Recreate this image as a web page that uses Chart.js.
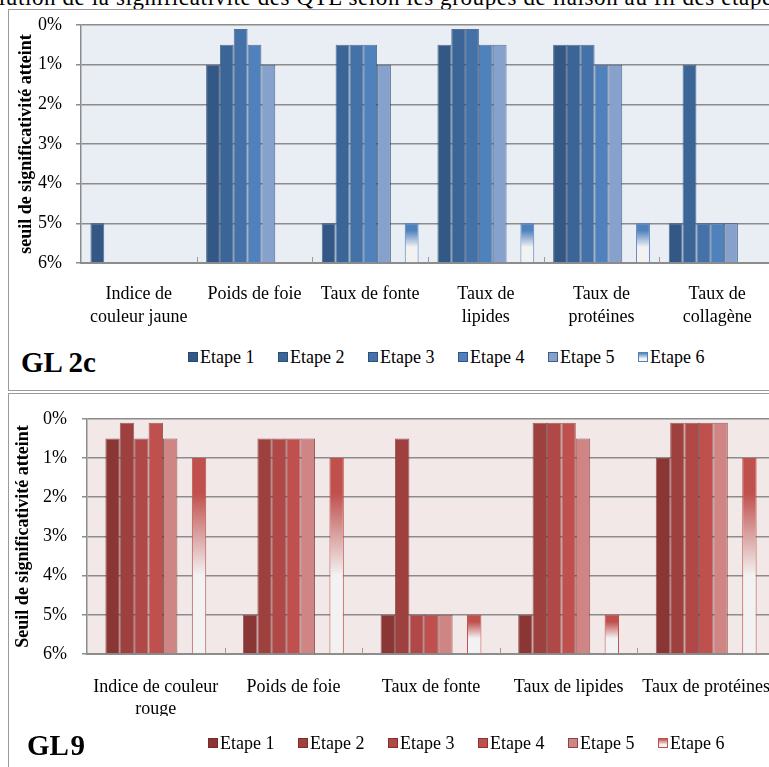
<!DOCTYPE html>
<html lang="fr">
<head>
<meta charset="utf-8">
<title>Significativité des QTL – GL 2c et GL 9</title>
<script src="https://cdn.jsdelivr.net/npm/chart.js@4.4.1/dist/chart.umd.min.js"></script>
<style>
  html, body {
    margin: 0; padding: 0; background: #fff;
    width: 769px; height: 767px; overflow: hidden; position: relative;
    font-family: 'Liberation Serif', 'Times New Roman', serif; color: #000;
  }
  .heading {
    position: absolute; left: -40px; top: -14px;
    font-size: 23px; line-height: 23px; letter-spacing: 0.6px; white-space: nowrap;
  }
  .frame {
    position: absolute; left: 8px; width: 840px;
    border: 1px solid #9a9a9a; box-sizing: border-box;
  }
  #frameA { top: 9px; height: 382px; }
  #frameB { top: 393px; height: 420px; }
  .plot { position: absolute; left: 0; }
  #chartA { top: 0; }
  #chartB { top: 393px; }
  .tag {
    position: absolute; font-weight: bold; font-size: 29px; line-height: 29px; white-space: nowrap;
  }
  .key { position: absolute; height: 20px; white-space: nowrap; font-size: 18px; line-height: 20px; }
  .key i {
    position: absolute; left: 0; top: 5px; width: 10px; height: 10px; box-sizing: border-box;
  }
  .key span { position: absolute; left: 12px; top: 0; }
</style>
</head>
<body>
<div class="heading">Évolution de la significativité des QTL selon les groupes de liaison au fil des étapes</div>
<div class="frame" id="frameA"></div>
<div class="frame" id="frameB"></div>
<canvas class="plot" id="chartA" width="800" height="345"></canvas>
<canvas class="plot" id="chartB" width="800" height="360"></canvas>
<div class="tag" style="left:21px; top:348px;">GL 2c</div>
<div class="tag" style="left:27px; top:731px; word-spacing:-4px;">GL 9</div>
<div id="legendA"></div>
<div id="legendB"></div>

<script>
// Stages shown in both charts
const SERIES_NAMES = ['Etape 1', 'Etape 2', 'Etape 3', 'Etape 4', 'Etape 5', 'Etape 6'];

// Threshold axis (per cent), read from top (0 %) to bottom (6 %)
const THRESHOLD_TICKS = ['0%', '1%', '2%', '3%', '4%', '5%', '6%'];
const THRESHOLD_FLOOR = 6;

// GL 2c — traits and threshold reached at each stage (null = not significant)
const GL2C_TRAITS = [['Indice de', 'couleur jaune'], 'Poids de foie', 'Taux de fonte',
                     ['Taux de', 'lipides'], ['Taux de', 'protéines'], ['Taux de', 'collagène']];
const GL2C_ETAPE1 = [5,    1,    5,   0.5, 0.5, 5];
const GL2C_ETAPE2 = [null, 0.5,  0.5, 0.1, 0.5, 1];
const GL2C_ETAPE3 = [null, 0.1,  0.5, 0.1, 0.5, 5];
const GL2C_ETAPE4 = [null, 0.5,  0.5, 0.5, 1,   5];
const GL2C_ETAPE5 = [null, 1,    1,   0.5, 1,   5];
const GL2C_ETAPE6 = [null, null, 5,   5,   5,   null];

// GL 9 — traits and threshold reached at each stage
const GL9_TRAITS = [['Indice de couleur', 'rouge'], 'Poids de foie', 'Taux de fonte',
                    'Taux de lipides', 'Taux de protéines'];
const GL9_ETAPE1 = [0.5, 5,   5,   5,   1];
const GL9_ETAPE2 = [0.1, 0.5, 0.5, 0.1, 0.1];
const GL9_ETAPE3 = [0.5, 0.5, 5,   0.1, 0.1];
const GL9_ETAPE4 = [0.1, 0.5, 5,   0.1, 0.1];
const GL9_ETAPE5 = [0.5, 0.5, 5,   0.5, 0.1];
const GL9_ETAPE6 = [1,   1,   5,   5,   1];

const BLUES = ['#345886', '#3b6597', '#4472a8', '#4f81bd', '#86a2cc', '#4f81bd'];
const REDS  = ['#893634', '#9d403e', '#af4846', '#c0504d', '#cf8583', '#c0504d'];

const FONT = "'Liberation Serif', 'Times New Roman', serif";
const GRID = '#8c8c8c';

// Stage 6 bars fade from the stage colour at the top to near-white lower down
function fadeFill(color) {
  return (ctx) => {
    const chart = ctx.chart;
    if (!chart.chartArea || ctx.type !== 'data' || ctx.raw == null) return color;
    const y = chart.scales.y;
    const top = y.getPixelForValue(ctx.raw);
    const bottom = y.getPixelForValue(THRESHOLD_FLOOR);
    const g = chart.ctx.createLinearGradient(0, top, 0, bottom);
    g.addColorStop(0, color);
    g.addColorStop(0.18, color);
    g.addColorStop(0.6, '#f2f2f2');
    g.addColorStop(1, '#f2f2f2');
    return g;
  };
}

// Plot-area tint
const plotTint = {
  id: 'plotTint',
  beforeDraw(chart, args, opts) {
    const { ctx, chartArea: a } = chart;
    ctx.save();
    ctx.fillStyle = opts.color;
    ctx.fillRect(a.left, a.top, a.right - a.left, a.bottom - a.top);
    ctx.restore();
  }
};

// Small upward tick marks between categories on the bottom axis
const innerTicks = {
  id: 'innerTicks',
  afterDatasetsDraw(chart) {
    const x = chart.scales.x, { ctx, chartArea: a } = chart;
    ctx.save();
    ctx.strokeStyle = '#9a9a9a';
    ctx.lineWidth = 1;
    for (let i = 1; i < x.ticks.length; i++) {
      const px = Math.round((x.getPixelForTick(i - 1) + x.getPixelForTick(i)) / 2) + 0.5;
      ctx.beginPath();
      ctx.moveTo(px, a.bottom);
      ctx.lineTo(px, a.bottom - 6);
      ctx.stroke();
    }
    ctx.restore();
  }
};

function buildDatasets(series, palette, edge) {
  const sets = series.slice(0, 5).map((values, i) => ({
    label: SERIES_NAMES[i],
    data: values,
    backgroundColor: palette[i],
    borderColor: edge,
    borderWidth: 1
  }));
  // empty slot separating stage 6 from the first five stages
  sets.push({ label: '', data: series[0].map(() => null) });
  sets.push({
    label: SERIES_NAMES[5],
    data: series[5],
    backgroundColor: fadeFill(palette[5]),
    borderColor: palette[5],
    borderWidth: 1
  });
  return sets;
}

function makeChart(id, traits, series, palette, edge, tint, g) {
  return new Chart(document.getElementById(id), {
    type: 'bar',
    data: { labels: traits, datasets: buildDatasets(series, palette, edge) },
    options: {
      responsive: false,
      animation: false,
      devicePixelRatio: 1,
      layout: { padding: { top: g.padTop, right: g.padRight, bottom: g.padBottom, left: 0 } },
      datasets: { bar: { base: THRESHOLD_FLOOR, categoryPercentage: g.catPct, barPercentage: 1 } },
      plugins: {
        legend: { display: false },
        tooltip: { enabled: false },
        plotTint: { color: tint }
      },
      scales: {
        x: {
          grid: { display: false },
          border: { display: true, color: GRID, width: 2 },
          ticks: {
            color: '#000', padding: g.xPad, maxRotation: 0, minRotation: 0, autoSkip: false,
            font: { family: FONT, size: 18, lineHeight: g.lineH }
          },
          afterFit(s) { s.height = g.xHeight; }
        },
        y: {
          reverse: true,
          min: 0,
          max: THRESHOLD_FLOOR,
          grid: { color: GRID, lineWidth: 1.5, tickLength: 5, drawTicks: true },
          border: { display: true, color: GRID, width: 1.5 },
          ticks: {
            stepSize: 1, color: '#000', padding: g.yPad,
            font: { family: FONT, size: 18 },
            callback: (v) => THRESHOLD_TICKS[v]
          },
          title: {
            display: true, text: g.title, color: '#000',
            padding: { top: g.titlePad, bottom: 0 },
            font: { family: FONT, size: 18, weight: 'bold', lineHeight: 1.2 }
          },
          afterFit(s) { s.width = g.yWidth; }
        }
      }
    },
    plugins: [plotTint, innerTicks]
  });
}

function drawKey(holderId, left0, top, palette, edge) {
  const holder = document.getElementById(holderId);
  SERIES_NAMES.forEach((name, i) => {
    const item = document.createElement('div');
    item.className = 'key';
    item.style.left = (left0 + 90 * i) + 'px';
    item.style.top = top + 'px';
    const sw = document.createElement('i');
    if (i === 5) {
      sw.style.background = `linear-gradient(${palette[5]}, #f4f4f4 70%)`;
      sw.style.border = `1px solid ${palette[5]}`;
    } else {
      sw.style.background = palette[i];
      sw.style.border = `1px solid ${edge}`;
    }
    const tx = document.createElement('span');
    tx.textContent = name;
    item.appendChild(sw);
    item.appendChild(tx);
    holder.appendChild(item);
  });
}

makeChart('chartA', GL2C_TRAITS,
  [GL2C_ETAPE1, GL2C_ETAPE2, GL2C_ETAPE3, GL2C_ETAPE4, GL2C_ETAPE5, GL2C_ETAPE6],
  BLUES, 'rgba(38,70,112,0.75)', '#e9edf4',
  { padTop: 25, padRight: 25, padBottom: 12, xHeight: 70, yWidth: 81, yPad: 14,
    xPad: 12, lineH: 1.28, titlePad: 16, catPct: 0.837,
    title: 'seuil de significativité atteint' });

makeChart('chartB', GL9_TRAITS,
  [GL9_ETAPE1, GL9_ETAPE2, GL9_ETAPE3, GL9_ETAPE4, GL9_ETAPE5, GL9_ETAPE6],
  REDS, 'rgba(115,38,36,0.7)', '#f2e8e8',
  { padTop: 15, padRight: 25, padBottom: 37, xHeight: 62, yWidth: 87, yPad: 15,
    xPad: 14, lineH: 1.22, titlePad: 13, catPct: 0.733,
    title: 'Seuil de significativité atteint' });

drawKey('legendA', 188, 347, BLUES, 'rgba(38,70,112,0.75)');
drawKey('legendB', 208, 733, REDS, 'rgba(115,38,36,0.7)');
</script>
</body>
</html>
